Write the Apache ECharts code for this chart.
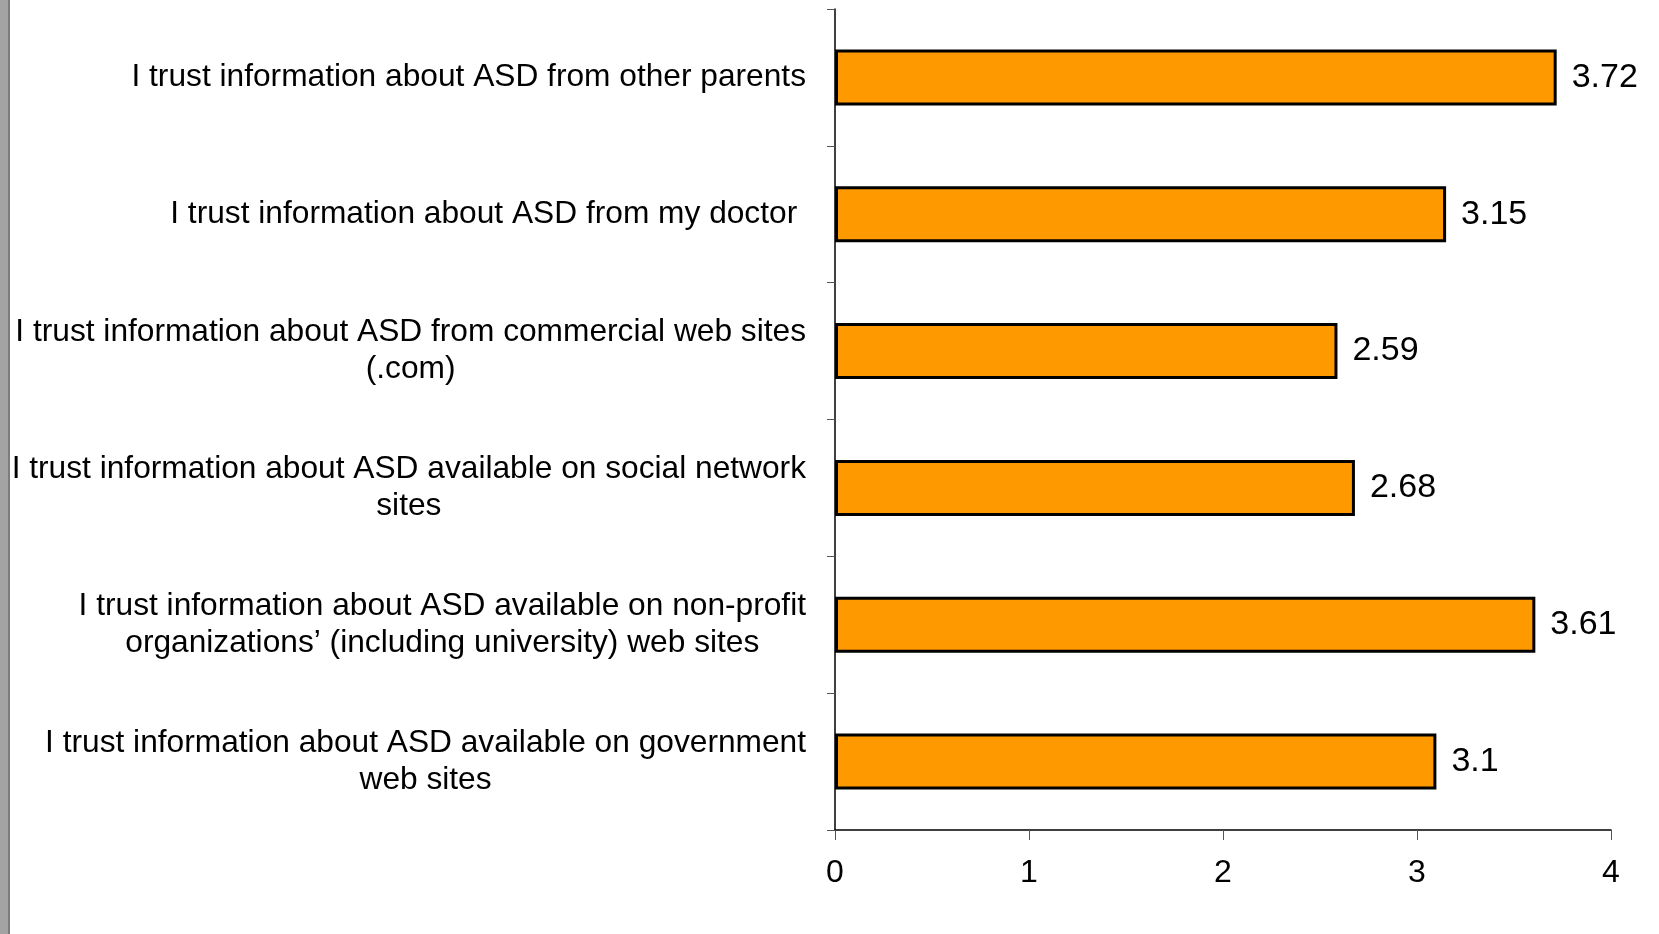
<!DOCTYPE html>
<html>
<head>
<meta charset="utf-8">
<script src="https://cdn.jsdelivr.net/npm/echarts@6/dist/echarts.min.js"></script>
<style>
  html, body { margin: 0; padding: 0; background: #ffffff; }
  #chart { width: 1659px; height: 934px; }
</style>
</head>
<body>
<div id="chart"></div>
<script>
// Statements, top to bottom; "\n" splits a statement over two centred lines
const categories = [
  'I trust information about ASD from other parents',
  'I trust information about ASD from my doctor ',
  'I trust information about ASD from commercial web sites\n(.com)',
  'I trust information about ASD available on social network\nsites',
  'I trust information about ASD available on non-profit\norganizations\u2019 (including university) web sites',
  'I trust information about ASD available on government\nweb sites'
];
// Mean agreement scores
const scores = [3.72, 3.15, 2.59, 2.68, 3.61, 3.1];
// Value axis ticks
const xTicks = [0, 1, 2, 3, 4];

const FONT = '"Liberation Sans", Arial, sans-serif';

const chart = echarts.init(document.getElementById('chart'), null, { renderer: 'canvas' });

chart.setOption({
  backgroundColor: '#ffffff',
  animation: false,
  textStyle: { fontFamily: FONT },
  graphic: [
    // grey strip along the left edge
    { type: 'rect', left: 0, top: 0, shape: { width: 8, height: 934 },
      style: { fill: '#a3a3a3' }, z: 0 },
    { type: 'rect', left: 8, top: 0, shape: { width: 2, height: 934 },
      style: { fill: '#7c7c7c' }, z: 0 }
  ],
  grid: { left: 835, right: 48, top: 9, bottom: 104, containLabel: false },
  xAxis: {
    type: 'value',
    min: xTicks[0],
    max: xTicks[xTicks.length - 1],
    interval: 1,
    axisLine: { show: true, lineStyle: { color: '#000000', width: 1.5 } },
    axisTick: { show: true, length: 10, lineStyle: { color: '#555555', width: 1 } },
    splitLine: { show: false },
    axisLabel: {
      color: '#000000', fontSize: 32, fontFamily: FONT, margin: 27,
      formatter: v => xTicks.includes(v) ? String(v) : ''
    }
  },
  yAxis: {
    type: 'category',
    inverse: true,
    data: categories,
    axisLine: { show: true, lineStyle: { color: '#000000', width: 1.5 } },
    axisTick: { show: true, length: 8, lineStyle: { color: '#555555', width: 1 } },
    axisLabel: {
      margin: 29,
      align: 'right',
      formatter: s => s.split('\n').map(l => '{c|' + l + '}').join('\n'),
      rich: {
        c: { align: 'center', color: '#000000', fontSize: 31.7, lineHeight: 37, fontFamily: FONT }
      }
    }
  },
  series: [{
    type: 'bar',
    data: scores,
    barWidth: 56,
    itemStyle: { color: '#ff9900', borderColor: '#000000', borderWidth: 3 },
    label: {
      show: true,
      position: 'right',
      distance: 15,
      color: '#000000',
      fontSize: 34,
      fontFamily: FONT,
      formatter: p => String(p.value)
    }
  }]
});
</script>
</body>
</html>
